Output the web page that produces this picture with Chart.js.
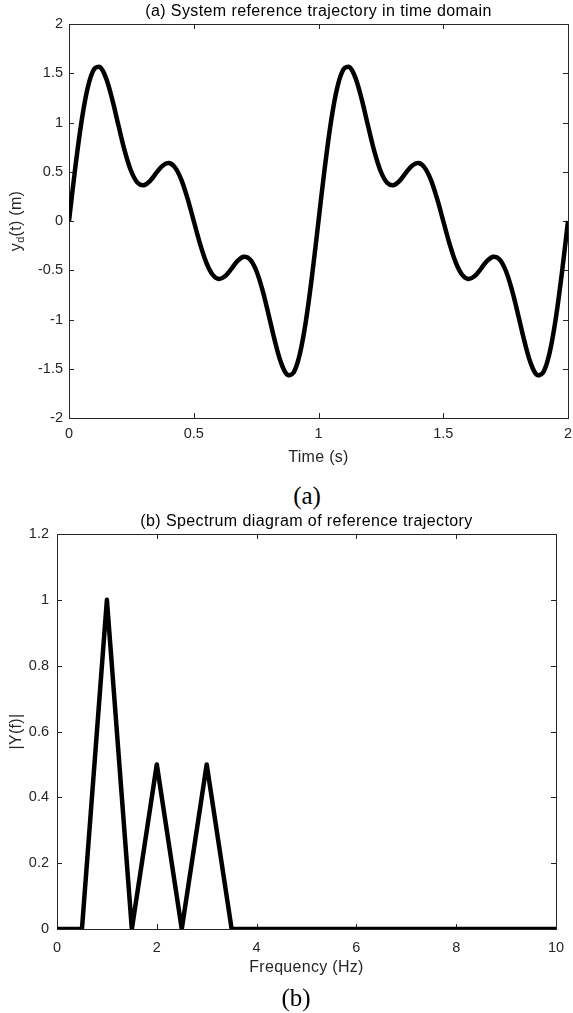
<!DOCTYPE html>
<html>
<head>
<meta charset="utf-8">
<script src="https://cdn.jsdelivr.net/npm/chart.js@4.4.1/dist/chart.umd.min.js"></script>
<style>
  html, body { margin: 0; padding: 0; background: #fff; }
  body { width: 573px; height: 1013px; position: relative; overflow: hidden; }
  .plot { position: absolute; left: 0; width: 573px; }
  .cap { position: absolute; font-family: "Liberation Serif", "DejaVu Serif", serif; font-size: 25px; color: #000; transform: translate(-50%, -50%); }
</style>
</head>
<body>
<div class="plot" style="top:0"><canvas id="timeChart"></canvas></div>
<div class="cap" style="left:307px; top:496px">(a)</div>
<div class="plot" style="top:500px"><canvas id="specChart"></canvas></div>
<div class="cap" style="left:296px; top:998px">(b)</div>
<script>
// (a) reference trajectory, sampled every 0.025 s
const timeS = [
  0, 0.025, 0.05, 0.075, 0.1, 0.125, 0.15, 0.175, 0.2, 0.225,
  0.25, 0.275, 0.3, 0.325, 0.35, 0.375, 0.4, 0.425, 0.45, 0.475,
  0.5, 0.525, 0.55, 0.575, 0.6, 0.625, 0.65, 0.675, 0.7, 0.725,
  0.75, 0.775, 0.8, 0.825, 0.85, 0.875, 0.9, 0.925, 0.95, 0.975,
  1, 1.025, 1.05, 1.075, 1.1, 1.125, 1.15, 1.175, 1.2, 1.225,
  1.25, 1.275, 1.3, 1.325, 1.35, 1.375, 1.4, 1.425, 1.45, 1.475,
  1.5, 1.525, 1.55, 1.575, 1.6, 1.625, 1.65, 1.675, 1.7, 1.725,
  1.75, 1.775, 1.8, 1.825, 1.85, 1.875, 1.9, 1.925, 1.95, 1.975, 2
];
const yd = [
  0, 0.538, 1.007, 1.352, 1.539, 1.561, 1.439, 1.217, 0.951, 0.697,
  0.5, 0.388, 0.363, 0.408, 0.488, 0.561, 0.588, 0.543, 0.42, 0.229,
  0, -0.229, -0.42, -0.543, -0.588, -0.561, -0.488, -0.408, -0.363, -0.388,
  -0.5, -0.697, -0.951, -1.217, -1.439, -1.561, -1.539, -1.352, -1.007, -0.538,
  0, 0.538, 1.007, 1.352, 1.539, 1.561, 1.439, 1.217, 0.951, 0.697,
  0.5, 0.388, 0.363, 0.408, 0.488, 0.561, 0.588, 0.543, 0.42, 0.229,
  0, -0.229, -0.42, -0.543, -0.588, -0.561, -0.488, -0.408, -0.363, -0.388,
  -0.5, -0.697, -0.951, -1.217, -1.439, -1.561, -1.539, -1.352, -1.007, -0.538, 0
];

// (b) spectrum
const freqHz = [0, 0.5, 1, 1.5, 2, 2.5, 3, 3.5, 10];
const magY = [0, 0, 1, 0, 0.5, 0, 0.5, 0, 0];

const axisColor = '#262626';
const tickFont = { family: '"Liberation Sans", Arial, sans-serif', size: 14.5 };
const labelFont = '16px "Liberation Sans", Arial, sans-serif';
const subFont = '11px "Liberation Sans", Arial, sans-serif';
const titleFont = '16px "Liberation Sans", Arial, sans-serif';

// plain numbers like matlab: 2, 1.5, 0.2 ...
const fmt = v => String(Number(v.toFixed(2)));

// box around the axes with ticks pointing inward, like a matlab figure
const boxPlugin = {
  id: 'boxPlugin',
  beforeDatasetsDraw(chart) {
    const { ctx, chartArea: a, scales: { x, y } } = chart;
    ctx.save();
    ctx.strokeStyle = axisColor;
    ctx.lineWidth = 1;
    ctx.strokeRect(Math.round(a.left) + 0.5, Math.round(a.top) + 0.5,
      Math.round(a.right - a.left), Math.round(a.bottom - a.top));
    ctx.beginPath();
    x.ticks.forEach(t => {
      const px = Math.round(x.getPixelForValue(t.value)) + 0.5;
      ctx.moveTo(px, a.bottom); ctx.lineTo(px, a.bottom - 5);
      ctx.moveTo(px, a.top); ctx.lineTo(px, a.top + 5);
    });
    y.ticks.forEach(t => {
      const py = Math.round(y.getPixelForValue(t.value)) + 0.5;
      ctx.moveTo(a.left, py); ctx.lineTo(a.left + 5, py);
      ctx.moveTo(a.right, py); ctx.lineTo(a.right - 5, py);
    });
    ctx.stroke();
    ctx.restore();
  },
  afterDraw(chart, args, opts) {
    const { ctx, chartArea: a } = chart;
    ctx.save();
    ctx.fillStyle = '#000';
    ctx.textAlign = 'center';
    ctx.textBaseline = 'middle';
    ctx.font = titleFont;
    ctx.letterSpacing = '0.4px';
    ctx.fillText(opts.title, (a.left + a.right) / 2, a.top - 12);
    ctx.fillStyle = axisColor;
    ctx.font = labelFont;
    ctx.letterSpacing = '0.3px';
    ctx.fillText(opts.xLabel, (a.left + a.right) / 2, a.bottom + opts.xLabelGap);

    // rotated y label, optional subscript piece
    ctx.translate(opts.yLabelX, (a.top + a.bottom) / 2);
    ctx.rotate(-Math.PI / 2);
    ctx.textAlign = 'left';
    const parts = opts.yLabel;
    let total = 0;
    parts.forEach(p => {
      ctx.font = p.sub ? subFont : labelFont;
      total += ctx.measureText(p.text).width;
    });
    let cx = -total / 2;
    parts.forEach(p => {
      ctx.font = p.sub ? subFont : labelFont;
      ctx.fillText(p.text, cx, p.sub ? 4 : 0);
      cx += ctx.measureText(p.text).width;
    });
    ctx.restore();
  }
};

function makeChart(el, xs, ys, o) {
  const points = xs.map((v, i) => ({ x: v, y: ys[i] }));
  return new Chart(document.getElementById(el), {
    type: 'line',
    data: {
      datasets: [{
        data: points,
        borderColor: '#000',
        borderWidth: 4.5,
        borderJoinStyle: 'round',
        pointRadius: 0,
        tension: o.tension,
        fill: false
      }]
    },
    options: {
      responsive: false,
      animation: false,
      events: [],
      layout: { padding: o.padding },
      plugins: {
        legend: { display: false },
        tooltip: { enabled: false },
        boxPlugin: o.text
      },
      scales: {
        x: {
          type: 'linear',
          min: o.xMin, max: o.xMax,
          grid: { display: false, drawTicks: false },
          border: { display: false },
          ticks: { stepSize: o.xStep, color: axisColor, font: tickFont, padding: o.xPad, maxRotation: 0, callback: fmt },
          afterFit: s => { s.height = o.xHeight; s.paddingLeft = 0; s.paddingRight = 0; }
        },
        y: {
          min: o.yMin, max: o.yMax,
          grid: { display: false, drawTicks: false },
          border: { display: false },
          ticks: { stepSize: o.yStep, color: axisColor, font: tickFont, padding: o.yPad, callback: fmt },
          afterFit: s => { s.width = o.yWidth; s.paddingTop = 0; s.paddingBottom = 0; }
        }
      }
    },
    plugins: [boxPlugin]
  });
}

const c1 = document.getElementById('timeChart');
c1.width = 573; c1.height = 470;
const c2 = document.getElementById('specChart');
c2.width = 573; c2.height = 500;

makeChart('timeChart', timeS, yd, {
  tension: 0.35,
  padding: { top: 24, right: 5, left: 0, bottom: 0 },
  xMin: 0, xMax: 2, xStep: 0.5, yMin: -2, yMax: 2, yStep: 0.5,
  xHeight: 52, yWidth: 69, xPad: 7, yPad: 6,
  text: {
    title: '(a) System reference trajectory in time domain',
    xLabel: 'Time (s)', xLabelGap: 40, yLabelX: 17,
    yLabel: [{ text: 'y' }, { text: 'd', sub: true }, { text: '(t) (m)' }]
  }
});

makeChart('specChart', freqHz, magY, {
  tension: 0,
  padding: { top: 34, right: 17, left: 0, bottom: 0 },
  xMin: 0, xMax: 10, xStep: 2, yMin: 0, yMax: 1.2, yStep: 0.2,
  xHeight: 71, yWidth: 57, xPad: 10, yPad: 8,
  text: {
    title: '(b) Spectrum diagram of reference trajectory',
    xLabel: 'Frequency (Hz)', xLabelGap: 39, yLabelX: 17,
    yLabel: [{ text: '|Y(f)|' }]
  }
});
</script>
</body>
</html>
